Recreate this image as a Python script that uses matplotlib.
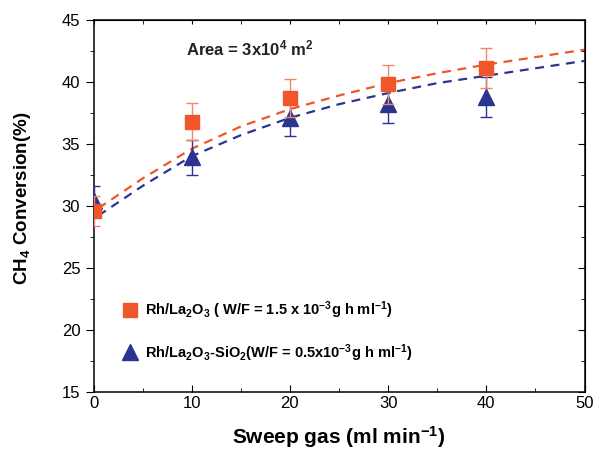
import matplotlib
matplotlib.use("Agg")
import matplotlib.pyplot as plt
from matplotlib.lines import Line2D
from matplotlib.ticker import MultipleLocator

# measured points
sweep = [0, 10, 20, 30, 40]
rh_la = [29.6, 36.8, 38.7, 39.8, 41.1]
rh_la_err = [1.2, 1.5, 1.5, 1.6, 1.6]
rh_lasi = [30.4, 33.9, 37.1, 38.2, 38.8]
rh_lasi_err = [1.2, 1.4, 1.45, 1.5, 1.6]

# dashed fit curves
fit_x = [0.5, 2, 5, 10, 15, 20, 25, 30, 35, 40, 45, 50]
fit_rh_la = [29.8, 30.6, 32.2, 34.6, 36.4, 37.8, 38.9, 39.9, 40.7, 41.4, 42.0, 42.6]
fit_rh_lasi = [29.2, 30.0, 31.6, 34.0, 35.7, 37.1, 38.2, 39.1, 39.9, 40.5, 41.1, 41.7]

RED = "#f0562a"
BLUE = "#2b3591"

plt.rcParams["font.family"] = ["Liberation Sans", "DejaVu Sans"]
plt.rcParams["mathtext.fontset"] = "custom"
plt.rcParams["mathtext.rm"] = "Liberation Sans:bold"
plt.rcParams["mathtext.it"] = "Liberation Sans:bold"
plt.rcParams["mathtext.bf"] = "Liberation Sans:bold"

fig = plt.figure(figsize=(5.94, 4.51), dpi=100)
ax = fig.add_axes([93.5 / 594, 1 - 391.5 / 451, (584.5 - 93.5) / 594, (391.5 - 20) / 451])

ax.plot(fit_x, fit_rh_la, "--", color=RED, lw=1.6, dashes=(4, 3), zorder=2)
ax.plot(fit_x, fit_rh_lasi, "--", color=BLUE, lw=1.6, dashes=(4, 3), zorder=2)

ax.errorbar(sweep, rh_lasi, yerr=rh_lasi_err, fmt="^", color=BLUE, ms=11,
            capsize=4, elinewidth=1, capthick=1, zorder=3)
ax.errorbar(sweep, rh_la, yerr=rh_la_err, fmt="s", color=RED, ms=10,
            capsize=4, elinewidth=1, capthick=1, ecolor="#f2866a", zorder=4)

ax.set_xlim(0, 50)
ax.set_ylim(15, 45)
ax.xaxis.set_major_locator(MultipleLocator(10))
ax.xaxis.set_minor_locator(MultipleLocator(5))
ax.yaxis.set_major_locator(MultipleLocator(5))
ax.yaxis.set_minor_locator(MultipleLocator(2.5))
ax.tick_params(axis="x", which="both", direction="in", top=False, labelsize=12)
ax.tick_params(axis="x", which="major", length=5)
ax.tick_params(axis="x", which="minor", length=3)
ax.tick_params(axis="y", which="both", direction="out", right=False, labelsize=12)
ax.tick_params(axis="y", which="major", length=6)
ax.tick_params(axis="y", which="minor", length=3)

sec_y = ax.secondary_yaxis("right")
sec_y.yaxis.set_major_locator(MultipleLocator(5))
sec_y.yaxis.set_minor_locator(MultipleLocator(2.5))
sec_y.tick_params(which="both", direction="in", labelright=False)
sec_y.tick_params(which="major", length=5)
sec_y.tick_params(which="minor", length=3)
sec_x = ax.secondary_xaxis("top")
sec_x.xaxis.set_major_locator(MultipleLocator(10))
sec_x.xaxis.set_minor_locator(MultipleLocator(5))
sec_x.tick_params(which="both", direction="in", labeltop=False, length=3)

for s in ax.spines.values():
    s.set_linewidth(1.1)

ax.set_xlabel(r"Sweep gas (ml min$^{-1}$)", fontsize=15, fontweight="bold", labelpad=9)
ax.set_ylabel(r"CH$_4$ Conversion(%)", fontsize=13.5, fontweight="bold")
ax.yaxis.set_label_coords(-0.123, 0.52)

ax.text(9.4, 42.7, r"Area = 3x10$^4$ m$^2$", fontsize=12, fontweight="bold",
        color="#222222", va="center")

handles = [
    Line2D([], [], marker="s", color=RED, ls="none", ms=10),
    Line2D([], [], marker="^", color=BLUE, ls="none", ms=11),
]
labels = [
    r"Rh/La$_2$O$_3$ ( W/F = 1.5 x 10$^{-3}$g h ml$^{-1}$)",
    r"Rh/La$_2$O$_3$-SiO$_2$(W/F = 0.5x10$^{-3}$g h ml$^{-1}$)",
]
ax.legend(handles, labels, loc="lower left", bbox_to_anchor=(0.03, 0.04),
          frameon=False, prop={"weight": "bold", "size": 10.5},
          handletextpad=0.4, labelspacing=1.4, handlelength=1.2)

fig.savefig("out.png", dpi=100)
